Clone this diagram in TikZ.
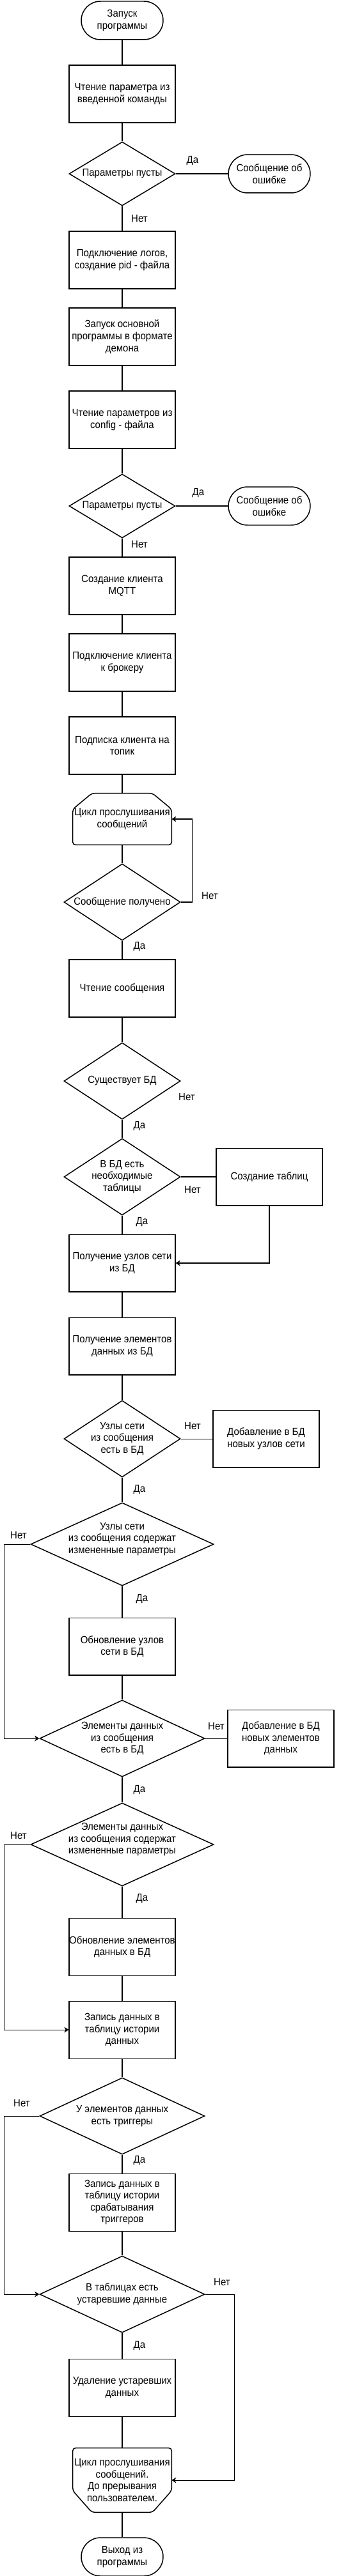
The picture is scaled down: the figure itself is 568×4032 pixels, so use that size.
\documentclass[tikz,border=0pt]{standalone}
\usepackage{fontspec}
\setmainfont{Liberation Sans}[FakeStretch=0.93]
\usetikzlibrary{shapes.geometric,arrows.meta}

\begin{document}
\begin{tikzpicture}[x=0.02cm, y=-0.02cm,
  font=\fontsize{9.2}{10.6}\selectfont,
  line/.style={line width=0.6pt},
  arr/.style={line width=0.6pt, -{Stealth[length=4pt,width=5pt,inset=1.2pt]}},
  box/.style={draw, line width=0.6pt, minimum width=3.32cm, minimum height=1.8cm, inner sep=0pt, align=center},
  term/.style={draw, line width=0.85pt, rounded corners=0.6cm, minimum width=2.56cm, minimum height=1.2cm, inner sep=0pt, align=center},
  cond/.style={draw, diamond, line width=0.85pt, inner sep=0pt, minimum width=3.64cm, minimum height=2.4cm},
  loopnode/.style={minimum width=3.08cm, minimum height=1.6cm, inner sep=0pt, align=center},
  loopline/.style={line width=0.85pt, rounded corners=2.5pt},
  yn/.style={inner sep=0pt}]

\useasboundingbox (0,0) rectangle (568,4032);

\node[term] (start) at (191,32) {Запуск\\программы};
\node[box] (b1) at (191,147) {Чтение параметра из\\введенной команды};
\node[cond, minimum width=3.32cm, minimum height=2cm, label={center:Параметры пусты}] (q1) at (191,272) {};
\node[term] (err1) at (421,272) {Сообщение об\\ошибке};
\node[box] (b2) at (191,407) {Подключение логов,\\создание pid - файла};
\node[box] (b3) at (191,527) {Запуск основной\\программы в формате\\демона};
\node[box] (b4) at (191,657) {Чтение параметров из\\config - файла};
\node[cond, minimum width=3.32cm, minimum height=2cm, label={center:Параметры пусты}] (q2) at (191,792) {};
\node[term] (err2) at (421,792) {Сообщение об\\ошибке};
\node[box] (b5) at (191,917) {Создание клиента\\MQTT};
\node[box] (b6) at (191,1037) {Подключение клиента\\к брокеру};
\node[box] (b7) at (191,1167) {Подписка клиента на\\топик};
\node[loopnode] (loop1) at (191,1282) {Цикл прослушивания\\сообщений};
\node[cond, label={center:Сообщение получено}] (q3) at (191,1412) {};
\node[box] (b8) at (191,1547) {Чтение сообщения};
\node[cond, label={center:Существует БД}] (q4) at (191,1692) {};
\node[cond, label={[align=center]center:{В БД есть\\необходимые\\таблицы}}] (q5) at (191,1842) {};
\node[box] (tab) at (421,1842) {Создание таблиц};
\node[box] (b9) at (191,1977) {Получение узлов сети\\из БД};
\node[box] (b10) at (191,2107) {Получение элементов\\данных из БД};
\node[cond, label={[align=center]center:{Узлы сети\\из сообщения\\есть в БД}}] (q6) at (191,2252) {};
\node[box] (add1) at (416,2252) {Добавление в БД\\новых узлов сети};
\node[cond, minimum width=5.72cm, minimum height=2.6cm, label={[align=center,yshift=0.16cm]center:{Узлы сети\\из сообщения содержат\\измененные параметры}}] (q7) at (191,2417) {};
\node[box] (b11) at (191,2577) {Обновление узлов\\сети в БД};
\node[cond, minimum width=5.16cm, label={[align=center]center:{Элементы данных\\из сообщения\\есть в БД}}] (q8) at (191,2721) {};
\node[box] (add2) at (439,2721) {Добавление в БД\\новых элементов\\данных};
\node[cond, minimum width=5.72cm, minimum height=2.6cm, label={[align=center,yshift=0.16cm]center:{Элементы данных\\из сообщения содержат\\измененные параметры}}] (q9) at (191,2887) {};
\node[box] (b12) at (191,3047) {Обновление элементов\\данных в БД};
\node[box] (b13) at (191,3177) {Запись данных в\\таблицу истории\\данных};
\node[cond, minimum width=5.16cm, label={[align=center]center:{У элементов данных\\есть триггеры}}] (q10) at (191,3312) {};
\node[box] (b14) at (191,3447) {Запись данных в\\таблицу истории\\срабатывания\\триггеров};
\node[cond, minimum width=5.16cm, label={[align=center]center:{В таблицах есть\\устаревшие данные}}] (q11) at (191,3591) {};
\node[box] (b15) at (191,3737) {Удаление устаревших\\данных};
\node[loopnode, minimum height=2cm] (loop2) at (191,3882) {Цикл прослушивания\\сообщений.\\До прерывания\\пользователем.};
\node[term] (stop) at (191,4002) {Выход из\\программы};

\draw[loopline] ([xshift=0.6cm]loop1.north west) -- ([xshift=-0.6cm]loop1.north east) -- ([yshift=-0.5cm]loop1.north east) -- (loop1.south east) -- (loop1.south west) -- ([yshift=-0.5cm]loop1.north west) -- cycle;
\draw[loopline] (loop2.north west) -- (loop2.north east) -- ([yshift=0.68cm]loop2.south east) -- ([xshift=-0.6cm]loop2.south east) -- ([xshift=0.6cm]loop2.south west) -- ([yshift=0.68cm]loop2.south west) -- cycle;

\node[yn] (y1) at (301,252) {Да};
\node[yn] (n1) at (218,342) {Нет};
\node[yn] (y2) at (310,772) {Да};
\node[yn] (n2) at (218,852) {Нет};
\node[yn] (n3) at (328,1402) {Нет};
\node[yn] (y3) at (218,1482) {Да};
\node[yn] (n4) at (292,1717) {Нет};
\node[yn] (y4) at (218,1763) {Да};
\node[yn] (n5) at (301,1862) {Нет};
\node[yn] (y5) at (222,1913) {Да};
\node[yn] (n6) at (301,2232) {Нет};
\node[yn] (y6) at (218,2332) {Да};
\node[yn] (n7) at (29,2403) {Нет};
\node[yn] (y7) at (222,2503) {Да};
\node[yn] (n8) at (338,2702) {Нет};
\node[yn] (y8) at (218,2802) {Да};
\node[yn] (n9) at (29,2873) {Нет};
\node[yn] (y9) at (222,2972) {Да};
\node[yn] (n10) at (34,3292) {Нет};
\node[yn] (y10) at (218,3382) {Да};
\node[yn] (n11) at (347,3572) {Нет};
\node[yn] (y11) at (218,3672) {Да};

\draw[line] (start) -- (b1);
\draw[line] (b1) -- (q1);
\draw[line] (q1) -- (err1);
\draw[line] (q1) -- (b2);
\draw[line] (b2) -- (b3);
\draw[line] (b3) -- (b4);
\draw[line] (b4) -- (q2);
\draw[line] (q2) -- (err2);
\draw[line] (q2) -- (b5);
\draw[line] (b5) -- (b6);
\draw[line] (b6) -- (b7);
\draw[line] (b7) -- (loop1);
\draw[line] (loop1) -- (q3);
\draw[arr] (q3.east) -- ++(18,0) |- (loop1.east);
\draw[line] (q3) -- (b8);
\draw[line] (b8) -- (q4);
\draw[line] (q4) -- (q5);
\draw[line] (q5) -- (tab);
\draw[arr] (tab.south) |- (b9.east);
\draw[line] (q5) -- (b9);
\draw[line] (b9) -- (b10);
\draw[line] (b10) -- (q6);
\draw[line] (q6) -- (add1);
\draw[line] (q6) -- (q7);
\draw[arr] (q7.west) -- ++(-41,0) |- (q8.west);
\draw[line] (q7) -- (b11);
\draw[line] (b11) -- (q8);
\draw[line] (q8) -- (add2);
\draw[line] (q8) -- (q9);
\draw[arr] (q9.west) -- ++(-41,0) |- (b13.west);
\draw[line] (q9) -- (b12);
\draw[line] (b12) -- (b13);
\draw[line] (b13) -- (q10);
\draw[arr] (q10.west) -- ++(-55,0) |- (q11.west);
\draw[line] (q10) -- (b14);
\draw[line] (b14) -- (q11);
\draw[arr] (q11.east) -- ++(46,0) |- (loop2.east);
\draw[line] (q11) -- (b15);
\draw[line] (b15) -- (loop2);
\draw[line] (loop2) -- (stop);
\end{tikzpicture}
\end{document}
